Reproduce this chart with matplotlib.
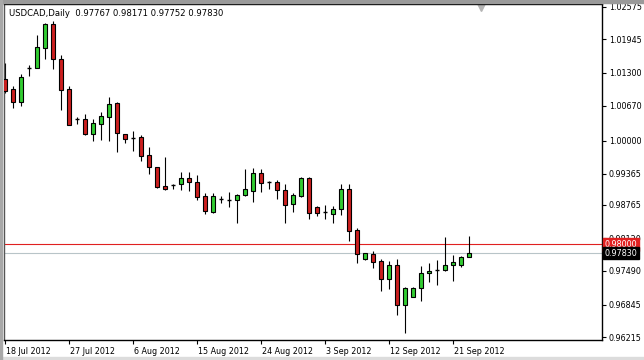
import matplotlib
matplotlib.use("Agg")
import matplotlib.pyplot as plt
import pandas as pd
from matplotlib.patches import Rectangle
import matplotlib.transforms as mtransforms

# USDCAD daily bars (Sun-Fri sessions), 18 Jul 2012 .. 24 Sep 2012
title = "USDCAD,Daily  0.97767 0.98171 0.97752 0.97830"
dates = [d for d in pd.date_range("2012-07-18", "2012-09-24") if d.dayofweek != 5]

opens = [1.01184, 1.00992, 1.00747, 1.01385, 1.01390, 1.01786, 1.02237, 1.01563, 1.00992, 1.00405,
         1.00414, 1.00120, 1.00324, 1.00447, 1.00716, 1.00120, 1.00052, 1.00062, 0.99716, 0.99485,
         0.99125, 0.99148, 0.99158, 0.99274, 0.99202, 0.98927, 0.98625, 0.98868, 0.98858, 0.98847,
         0.98946, 0.99035, 0.99370, 0.99206, 0.99197, 0.99048, 0.98773, 0.98933, 0.99274, 0.98727,
         0.98617, 0.98592, 0.98677, 0.99062, 0.98273, 0.97721, 0.97811, 0.97682, 0.97330, 0.97600,
         0.96830, 0.96996, 0.97157, 0.97446, 0.97500, 0.97503, 0.97600, 0.97600, 0.97767]
highs = [1.01486, 1.01049, 1.01274, 1.01453, 1.02031, 1.02256, 1.02300, 1.01646, 1.01049, 1.00453,
         1.00511, 1.00409, 1.00549, 1.00838, 1.00736, 1.00132, 1.00184, 1.00107, 0.99870, 0.99497,
         0.99683, 0.99158, 0.99395, 0.99395, 0.99331, 0.98985, 0.98985, 0.98933, 0.99010, 0.98971,
         0.99447, 0.99466, 0.99453, 0.99227, 0.99241, 0.99160, 0.98995, 0.99293, 0.99293, 0.98741,
         0.98760, 0.98741, 0.99158, 0.99158, 0.98312, 0.97835, 0.97881, 0.97715, 0.97682, 0.97721,
         0.97175, 0.97188, 0.97586, 0.97638, 0.97702, 0.98138, 0.97798, 0.97779, 0.98171]
lows = [1.00920, 1.00632, 1.00670, 1.01248, 1.01386, 1.01563, 1.01371, 1.00593, 1.00290, 1.00313,
        1.00107, 0.99997, 1.00010, 0.99997, 0.99774, 0.99958, 0.99805, 0.99606, 0.99351, 0.99081,
        0.99048, 0.99062, 0.99048, 0.99035, 0.98856, 0.98581, 0.98612, 0.98793, 0.98727, 0.98408,
        0.98939, 0.98823, 0.99016, 0.99068, 0.98875, 0.98408, 0.98629, 0.98923, 0.98490, 0.98554,
        0.98496, 0.98408, 0.98567, 0.98073, 0.97638, 0.97702, 0.97542, 0.97111, 0.97138, 0.96638,
        0.96303, 0.96984, 0.96919, 0.97284, 0.97221, 0.97490, 0.97303, 0.97573, 0.97752]
closes = [1.00953, 1.00747, 1.01223, 1.01392, 1.01800, 1.02237, 1.01563, 1.00978, 1.00293, 1.00412,
          1.00132, 1.00332, 1.00472, 1.00697, 1.00139, 1.00035, 1.00058, 0.99708, 0.99485, 0.99112,
          0.99062, 0.99143, 0.99270, 0.99197, 0.98920, 0.98639, 0.98927, 0.98872, 0.98854, 0.98948,
          0.99062, 0.99370, 0.99177, 0.99210, 0.99039, 0.98769, 0.98948, 0.99274, 0.98600, 0.98612,
          0.98621, 0.98677, 0.99062, 0.98265, 0.97823, 0.97831, 0.97669, 0.97330, 0.97600, 0.96830,
          0.97169, 0.97169, 0.97446, 0.97490, 0.97506, 0.97600, 0.97657, 0.97754, 0.97830]

level_line = 0.98000
bid = 0.97830
price_ticks = [1.02575, 1.01945, 1.01300, 1.00670, 1.00000, 0.99365, 0.98765,
               0.98120, 0.97490, 0.96845, 0.96215]
date_ticks = ["2012-07-18", "2012-07-27", "2012-08-06", "2012-08-15",
              "2012-08-24", "2012-09-03", "2012-09-12", "2012-09-21"]

BULL = "#32cd32"
BEAR = "#cc1f1f"
FONT = "DejaVu Sans"
FS = 5.8

W, H = 644, 360
fig = plt.figure(figsize=(W / 100, H / 100), dpi=100)
ax = fig.add_axes([4 / W, 20 / H, 598 / W, 336 / H])

# window border bands
fig.patches.append(Rectangle((0, 1 - 2.5 / H), 1, 2.5 / H, transform=fig.transFigure,
                             color="#9a9a9a", zorder=0))
fig.patches.append(Rectangle((0, 0), 1, 3 / H, transform=fig.transFigure,
                             color="#dcdcdc", zorder=0))
fig.patches.append(Rectangle((0, 0), 2 / W, 1, transform=fig.transFigure,
                             color="#a8a8a8", zorder=0))

bw = 0.6
for i, (o, h, l, c) in enumerate(zip(opens, highs, lows, closes)):
    ax.vlines(i, l, h, color="black", lw=0.8, zorder=2)
    lo, hi = min(o, c), max(o, c)
    if hi - lo < 0.0002:
        ax.hlines((o + c) / 2, i - bw / 2, i + bw / 2, color="black", lw=1.0, zorder=3)
    else:
        ax.add_patch(Rectangle((i - bw / 2, lo), bw, hi - lo,
                               facecolor=BULL if c > o else BEAR,
                               edgecolor="black", lw=0.8, zorder=3))

ax.axhline(level_line, color="#e02020", lw=0.8, zorder=1)
ax.axhline(bid, color="#b8c4c8", lw=0.8, zorder=1)

ax.set_xlim(-0.125, 74.625)
ax.set_ylim(0.96162, 1.02627)

ax.yaxis.tick_right()
ax.set_yticks(price_ticks)
ax.set_yticklabels([f"{p:.5f}" for p in price_ticks], family=FONT, fontsize=FS)
ax.tick_params(axis="y", direction="out", length=3, width=0.8, pad=2)

xt = [dates.index(pd.Timestamp(d)) for d in date_ticks]
ax.set_xticks(xt)
ax.set_xticklabels([f"{dates[i].day} {dates[i]:%b %Y}" for i in xt],
                   family=FONT, fontsize=FS, ha="left")
ax.tick_params(axis="x", direction="out", length=3, width=0.8, pad=2)
for lab in ax.get_xticklabels():
    lab.set_transform(lab.get_transform() + mtransforms.ScaledTranslation(1 / 100, 0, fig.dpi_scale_trans))

for s in ax.spines.values():
    s.set_linewidth(1.0)
ax.spines["left"].set_color("#555555")

# header
ax.text(5 / 598, 1 - 9 / 336, title, transform=ax.transAxes, family=FONT,
        fontsize=6.1, ha="left", va="center")

# price boxes at the right
trans = mtransforms.blended_transform_factory(ax.transAxes, ax.transData)
ax.text(1.004, level_line, f"{level_line:.5f}", transform=trans, family=FONT, fontsize=FS,
        color="white", ha="left", va="center", clip_on=False, zorder=5,
        bbox=dict(boxstyle="square,pad=0.2", fc="#e02020", ec="#e02020"))
ax.text(1.004, bid, f"{bid:.5f}", transform=trans, family=FONT, fontsize=FS,
        color="white", ha="left", va="center", clip_on=False, zorder=5,
        bbox=dict(boxstyle="square,pad=0.2", fc="black", ec="black"))

# chart shift marker
ax.plot([(481 - 4) / 598], [1 - 3 / 336], marker="v", ms=6, color="#b4b4b4",
        transform=ax.transAxes, clip_on=False)

fig.savefig("out.png", dpi=100, facecolor="white")
